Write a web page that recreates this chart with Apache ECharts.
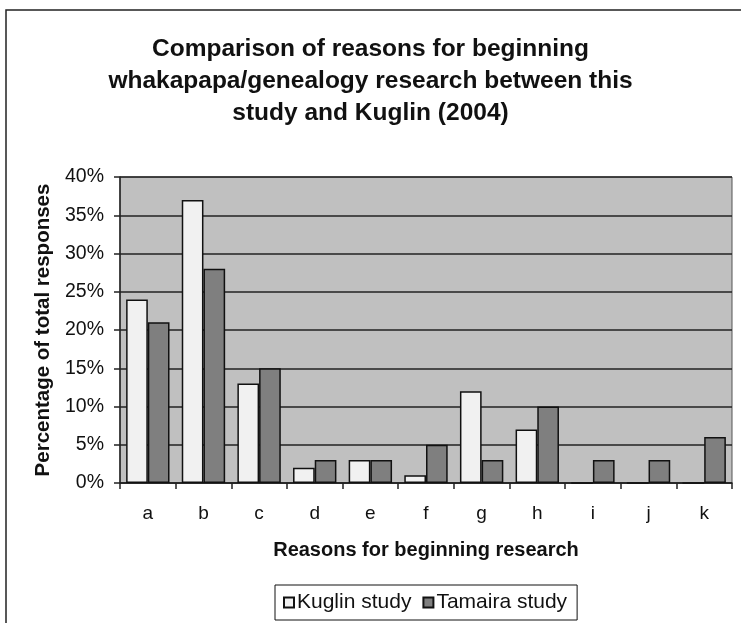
<!DOCTYPE html>
<html>
<head>
<meta charset="utf-8">
<script src="https://cdn.jsdelivr.net/npm/echarts@6/dist/echarts.min.js"></script>
<style>
  html, body { margin: 0; padding: 0; background: #fff; }
  #chart { width: 741px; height: 623px; }
</style>
</head>
<body>
<div id="chart"></div>
<script>
// Reasons a–k and the share of responses in each study (percent)
const categories = ['a', 'b', 'c', 'd', 'e', 'f', 'g', 'h', 'i', 'j', 'k'];
const kuglin = [24, 37, 13, 2, 3, 1, 12, 7, 0, 0, 0];
const tamaira = [21, 28, 15, 3, 3, 5, 3, 10, 3, 3, 6];
const yTicks = [0, 5, 10, 15, 20, 25, 30, 35, 40];

const FONT = '"Liberation Sans", Arial, sans-serif';

const chart = echarts.init(document.getElementById('chart'));
chart.setOption({
  backgroundColor: '#ffffff',
  animation: false,
  title: {
    text: 'Comparison of reasons for beginning\nwhakapapa/genealogy research between this\nstudy and Kuglin (2004)',
    left: 'center',
    top: 28,
    textStyle: {
      fontFamily: FONT,
      fontSize: 24.5,
      fontWeight: 'bold',
      color: '#111',
      lineHeight: 32
    }
  },
  graphic: [{
    type: 'rect',
    shape: { x: 6, y: 10, width: 745, height: 640 },
    style: { fill: 'none', stroke: '#222', lineWidth: 1.5 },
    silent: true
  }],
  legend: {
    data: ['Kuglin study', 'Tamaira study'],
    left: 275,
    top: 585,
    padding: [7, 10, 7, 8],
    borderColor: '#111',
    borderWidth: 1,
    itemWidth: 10,
    itemHeight: 10,
    itemGap: 11,
    icon: 'rect',
    textStyle: { fontFamily: FONT, fontSize: 21, color: '#111', padding: [0, 0, 0, -2] }
  },
  grid: {
    left: 120,
    right: 9,
    top: 177,
    bottom: 140,
    show: true,
    backgroundColor: '#c0c0c0',
    borderColor: '#555',
    borderWidth: 1
  },
  xAxis: {
    type: 'category',
    data: categories,
    name: 'Reasons for beginning research',
    nameLocation: 'middle',
    nameGap: 57,
    nameTextStyle: { fontFamily: FONT, fontSize: 20, fontWeight: 'bold', color: '#111' },
    axisLine: { lineStyle: { color: '#222', width: 1.5 } },
    axisTick: { show: true, length: 6, lineStyle: { color: '#222', width: 1.5 } },
    axisLabel: { fontFamily: FONT, fontSize: 19, color: '#111', margin: 21 }
  },
  yAxis: {
    type: 'value',
    min: 0,
    max: 40,
    interval: 5,
    name: 'Percentage of total responses',
    nameLocation: 'middle',
    nameGap: 64,
    nameTextStyle: { fontFamily: FONT, fontSize: 20.5, fontWeight: 'bold', color: '#111' },
    axisLine: { show: true, lineStyle: { color: '#222', width: 1.5 } },
    axisTick: { show: true, length: 6, lineStyle: { color: '#222', width: 1.5 } },
    axisLabel: {
      fontFamily: FONT, fontSize: 19.5, color: '#111', margin: 16,
      formatter: v => (yTicks.includes(v) ? v + '%' : '')
    },
    splitLine: { show: true, lineStyle: { color: '#222', width: 1.5 } }
  },
  series: [
    {
      name: 'Kuglin study',
      type: 'bar',
      data: kuglin,
      barGap: '0%',
      barCategoryGap: '22%',
      itemStyle: { color: '#f1f1f1', borderColor: '#111', borderWidth: 1.5 }
    },
    {
      name: 'Tamaira study',
      type: 'bar',
      data: tamaira,
      itemStyle: { color: '#7f7f7f', borderColor: '#111', borderWidth: 1.5 }
    }
  ]
});
</script>
</body>
</html>
